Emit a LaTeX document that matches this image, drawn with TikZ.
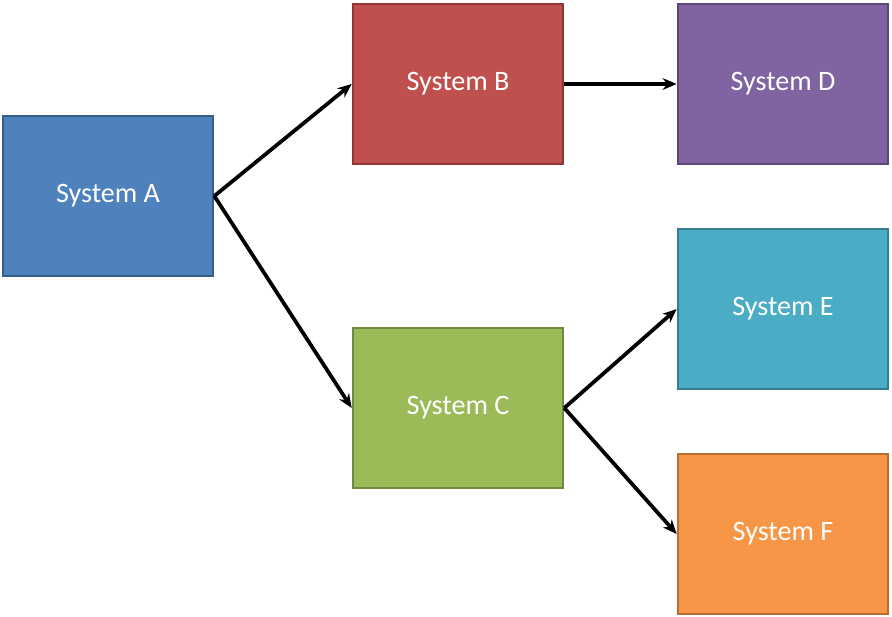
\documentclass[tikz,border=0pt]{standalone}
\usepackage{fontspec}
\setmainfont{Carlito}
\usetikzlibrary{arrows.meta,positioning}
\definecolor{sysA}{HTML}{4F81BD}\definecolor{sysAd}{HTML}{385D8A}
\definecolor{sysB}{HTML}{C0504D}\definecolor{sysBd}{HTML}{8C3836}
\definecolor{sysC}{HTML}{9BBB59}\definecolor{sysCd}{HTML}{71893F}
\definecolor{sysD}{HTML}{8064A2}\definecolor{sysDd}{HTML}{5C4776}
\definecolor{sysE}{HTML}{4BACC6}\definecolor{sysEd}{HTML}{357D91}
\definecolor{sysF}{HTML}{F79646}\definecolor{sysFd}{HTML}{B66D31}
\begin{document}
\begin{tikzpicture}[x=0.03cm,y=-0.03cm,
  box/.style={draw=#1d, fill=#1, line width=2.2pt, text=white, minimum width=6.3cm, minimum height=4.8cm,
    font=\fontsize{24}{28}\selectfont},
  link/.style={-{Stealth[length=12pt,width=10pt]}, line width=3.2pt, black}]
\useasboundingbox (0,0) rectangle (892,617);

\node[box=sysA] (a) at (108,196) {System A};
\node[box=sysB] (b) at (458,84) {System B};
\node[box=sysC] (c) at (458,408) {System C};
\node[box=sysD] (d) at (783,84) {System D};
\node[box=sysE] (e) at (783,309) {System E};
\node[box=sysF] (f) at (783,534) {System F};

\draw[link] (a.east) -- (b.west);
\draw[link] (a.east) -- (c.west);
\draw[link] (b.east) -- (d.west);
\draw[link] (c.east) -- (e.west);
\draw[link] (c.east) -- (f.west);

\end{tikzpicture}
\end{document}
